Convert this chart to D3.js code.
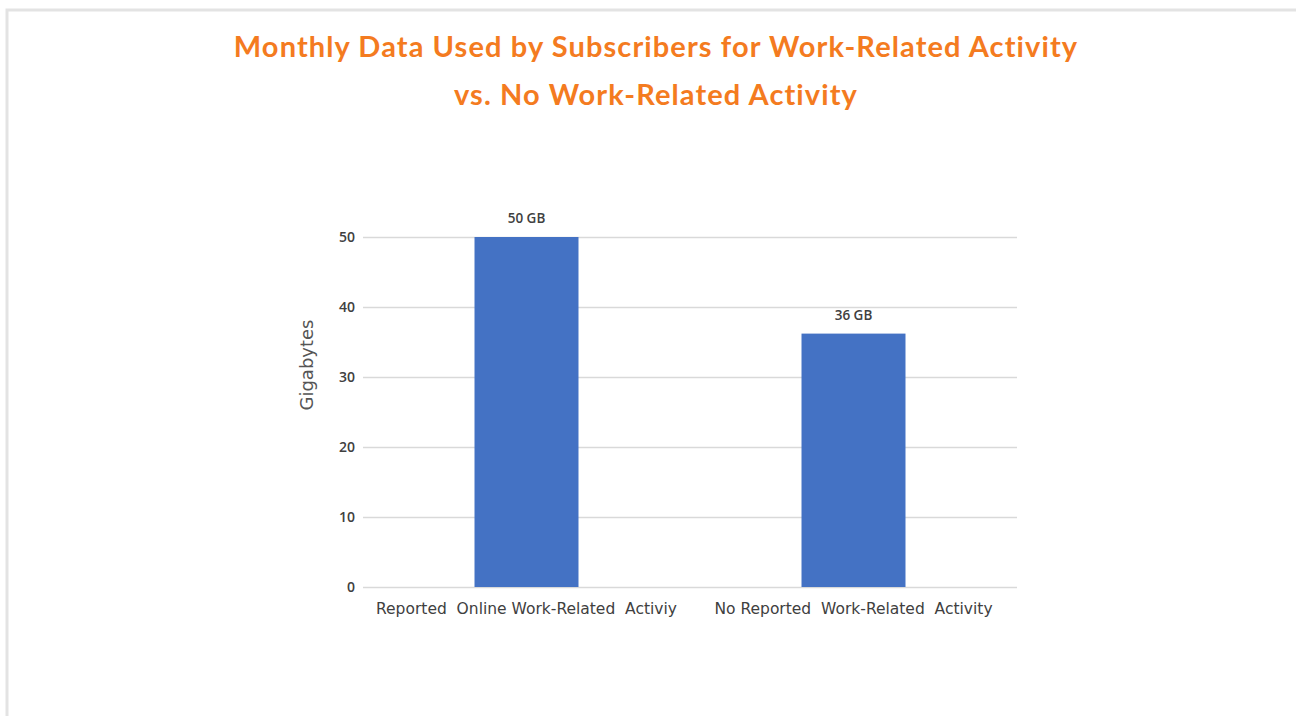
<!DOCTYPE html>
<html>
<head>
<meta charset="utf-8">
<script src="https://cdn.jsdelivr.net/npm/d3@7"></script>
<style>
  body { margin: 0; background: #fff; }
  svg { display: block; }
</style>
</head>
<body>
<div id="chart"></div>
<script>
// chart data
var categories = ["Reported  Online Work-Related  Activiy", "No Reported  Work-Related  Activity"];
var values = [50, 36.2];
var valueLabels = ["50 GB", "36 GB"];
var yTicks = [0, 10, 20, 30, 40, 50];
var titleLines = ["Monthly Data Used by Subscribers for Work-Related Activity", "vs. No Work-Related Activity"];

var W = 1296, H = 716;
var margin = {top: 237, right: 279, bottom: 129, left: 363};
var width = W - margin.left - margin.right;
var height = H - margin.top - margin.bottom;

var root = d3.select("#chart").append("svg")
  .attr("width", W)
  .attr("height", H);

// outer frame
root.append("rect")
  .attr("x", 7).attr("y", 10)
  .attr("width", W + 10).attr("height", H + 10)
  .attr("fill", "#fff")
  .attr("stroke", "#e3e3e3")
  .attr("stroke-width", 3);

// title
root.append("g").selectAll("text")
  .data(titleLines)
  .enter().append("text")
    .attr("x", 656)
    .attr("y", function(d, i) { return 57 + i * 48; })
    .attr("text-anchor", "middle")
    .attr("font-family", "Lato, 'Open Sans', sans-serif")
    .attr("font-weight", "bold")
    .attr("font-size", 29)
    .attr("letter-spacing", 1.1)
    .attr("fill", "#f47b20")
    .text(function(d) { return d; });

var svg = root.append("g")
  .attr("transform", "translate(" + margin.left + "," + margin.top + ")");

var x = d3.scaleBand()
  .domain(categories)
  .range([0, width])
  .paddingInner(0.682)
  .paddingOuter(0.341);

var y = d3.scaleLinear()
  .domain([0, 50])
  .range([height, 0]);

// gridlines
svg.append("g").selectAll("line")
  .data(yTicks)
  .enter().append("line")
    .attr("x1", 0).attr("x2", width)
    .attr("y1", function(d) { return y(d) + 0.5; })
    .attr("y2", function(d) { return y(d) + 0.5; })
    .attr("stroke", "#d9d9d9")
    .attr("stroke-width", 1.5);

// y axis
var yAxis = svg.append("g")
  .call(d3.axisLeft(y).tickValues(yTicks).tickSize(0).tickPadding(8));
yAxis.select(".domain").remove();
yAxis.selectAll("text")
  .attr("font-family", "'Open Sans', sans-serif")
  .attr("font-size", 14)
  .attr("font-weight", 600)
  .attr("fill", "#404040");

// x axis
var xAxis = svg.append("g")
  .attr("transform", "translate(0," + height + ")")
  .call(d3.axisBottom(x).tickSize(0).tickPadding(16));
xAxis.select(".domain").remove();
xAxis.selectAll("text")
  .attr("font-family", "'DejaVu Sans', sans-serif")
  .attr("font-size", 15.5)
  .attr("fill", "#404040")
  .style("white-space", "pre");

// bars
svg.append("g").selectAll("rect")
  .data(values)
  .enter().append("rect")
    .attr("x", function(d, i) { return x(categories[i]); })
    .attr("y", function(d) { return y(d); })
    .attr("width", x.bandwidth())
    .attr("height", function(d) { return height - y(d); })
    .attr("fill", "#4472c4");

// value labels
svg.append("g").selectAll("text")
  .data(values)
  .enter().append("text")
    .attr("x", function(d, i) { return x(categories[i]) + x.bandwidth() / 2; })
    .attr("y", function(d) { return y(d) - 14; })
    .attr("text-anchor", "middle")
    .attr("font-family", "'Open Sans', sans-serif")
    .attr("font-size", 13.5)
    .attr("font-weight", 600)
    .attr("fill", "#404040")
    .text(function(d, i) { return valueLabels[i]; });

// y axis title
svg.append("text")
  .attr("transform", "translate(" + (-50) + "," + (height / 2 - 47) + ") rotate(-90)")
  .attr("text-anchor", "middle")
  .attr("font-family", "'DejaVu Sans', sans-serif")
  .attr("font-size", 18)
  .attr("fill", "#555")
  .text("Gigabytes");
</script>
</body>
</html>
